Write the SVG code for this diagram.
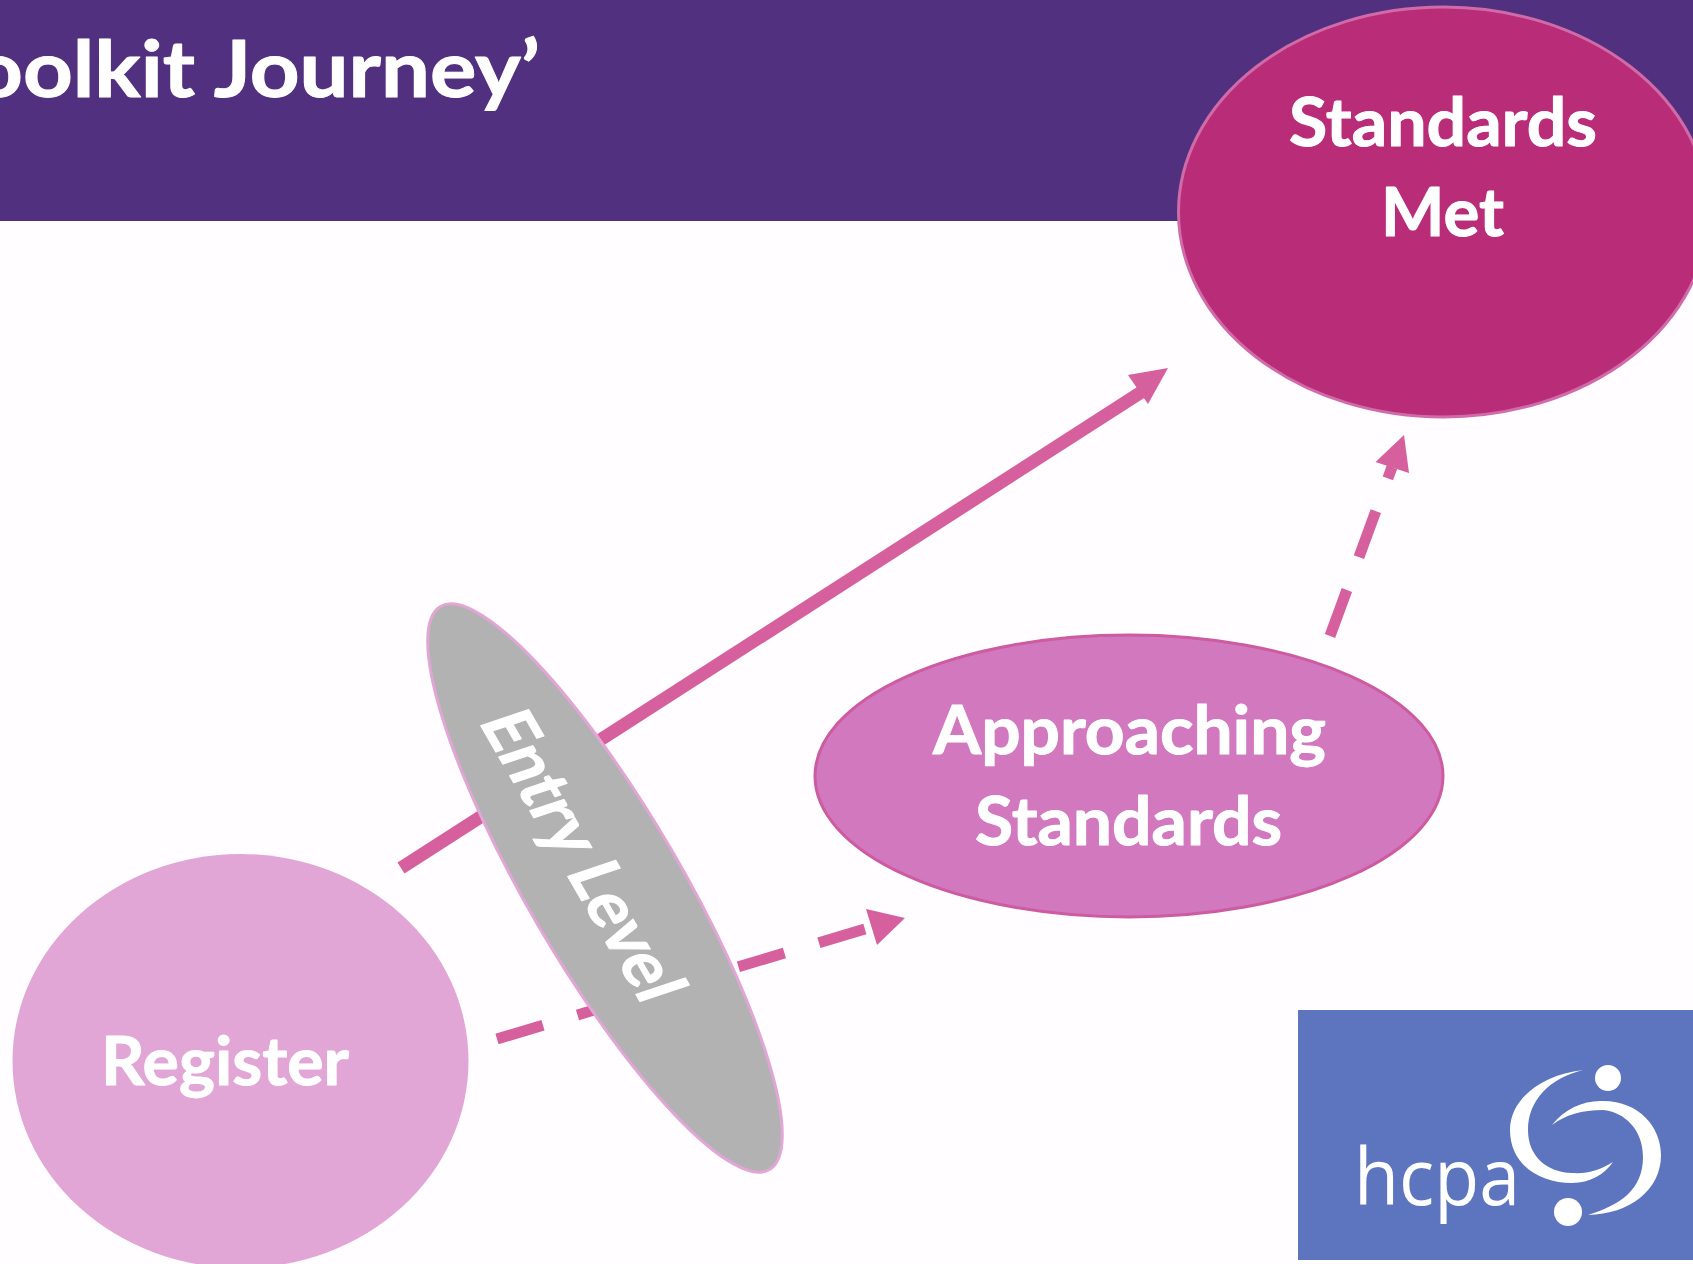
<svg xmlns="http://www.w3.org/2000/svg" width="1693" height="1264" viewBox="0 0 1693 1264">
<defs><style>
.t{font-family:Lato,"Liberation Sans",sans-serif;font-weight:700;fill:#fff;stroke:#fff;stroke-width:1;stroke-linejoin:round}
.c{fill:none;stroke:#d65f9e;stroke-width:13}
.d{fill:none;stroke:#d65f9e;stroke-width:11}
.h{fill:#d65f9e}
.w{fill:#fff}
</style></defs>
<rect width="1693" height="1264" fill="#fffdff"/>
<g id="header"><rect width="1693" height="221" fill="#51307f"/>
<text class="t" x="-27" y="97" font-size="78" textLength="567" lengthAdjust="spacingAndGlyphs">oolkit Journey’</text></g>
<g id="connectors">
<line class="c" x1="401" y1="868" x2="1143" y2="391"/>
<polygon class="h" points="1168,368 1128,375 1148,404"/>
<line class="d" x1="497" y1="1039" x2="868" y2="928" stroke-dasharray="48 36"/>
<polygon class="h" points="905,918 866,909 877,945"/>
<line class="d" x1="1330" y1="636" x2="1392" y2="467" stroke-dasharray="49 35"/>
<polygon class="h" points="1404,435 1375.5,462 1409,473"/>
</g>
<g id="standards-met"><ellipse cx="1443.5" cy="212" rx="265" ry="205" fill="#b92d78" stroke="#d06aa8" stroke-width="3"/>
<text class="t" x="1289" y="146" font-size="66" textLength="308" lengthAdjust="spacingAndGlyphs">Standards</text>
<text class="t" x="1381" y="236" font-size="66" textLength="123" lengthAdjust="spacingAndGlyphs">Met</text></g>
<g id="approaching-standards"><ellipse cx="1129" cy="776" rx="314" ry="141" fill="#d278bf" stroke="#cc5ba0" stroke-width="3"/>
<text class="t" x="933" y="754" font-size="66" textLength="393" lengthAdjust="spacingAndGlyphs">Approaching</text>
<text class="t" x="975" y="845" font-size="66" textLength="307" lengthAdjust="spacingAndGlyphs">Standards</text></g>
<g id="register"><ellipse cx="240.5" cy="1061" rx="228" ry="207" fill="#e1a6d6"/>
<text class="t" x="101" y="1085" font-size="66" textLength="248" lengthAdjust="spacingAndGlyphs">Register</text></g>
<g id="entry-level"><ellipse cx="0" cy="0" rx="326" ry="76.6" transform="translate(605 888) rotate(59.7)" fill="#b2b2b2" stroke="#e1a6d6" stroke-width="3"/>
<text class="t" font-size="64" textLength="328" lengthAdjust="spacingAndGlyphs" transform="matrix(.5 .866 -1.04 .347 478 721)">Entry Level</text></g>
<g id="hcpa-logo"><rect x="1298" y="1010" width="395" height="250" fill="#5c75be"/>
<path class="w" d="M1583 1070C1540 1075 1510 1100 1510 1130C1510 1165 1540 1183 1572 1183C1590 1183 1605 1174 1613 1162C1600 1170 1588 1174 1572 1173C1545 1172 1528 1155 1528 1130C1528 1100 1550 1078 1583 1070Z"/>
<path class="w" d="M1552 1125C1565 1108 1585 1100 1603 1101C1640 1101 1661 1128 1661 1155C1661 1190 1630 1214 1588 1215C1620 1205 1643 1190 1643 1157C1643 1130 1625 1112 1603 1110C1582 1110 1565 1115 1552 1125Z"/>
<circle class="w" cx="1608" cy="1078" r="13"/><circle class="w" cx="1568" cy="1212" r="14"/>
<text x="1354" y="1205" font-family="Open Sans,sans-serif" font-weight="400" font-size="78" fill="#fff" textLength="166" lengthAdjust="spacingAndGlyphs">hcpa</text></g>
</svg>
